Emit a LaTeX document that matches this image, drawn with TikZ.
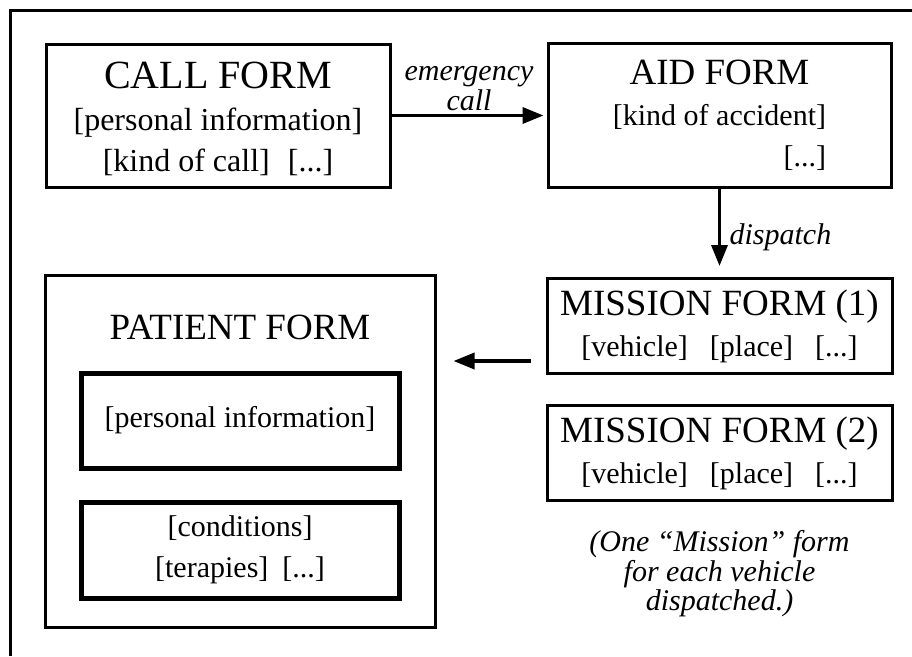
\documentclass[tikz,border=0pt]{standalone}
\usepackage{fontspec}
\setmainfont{Liberation Serif}
\usepackage{tikz}
\usetikzlibrary{arrows.meta, positioning}

\newcommand{\fld}[1]{[#1]}
\newcommand{\titlesize}{\fontsize{37}{41}\selectfont}
\newcommand{\bigtitlesize}{\fontsize{40}{41}\selectfont}

\begin{document}
\begin{tikzpicture}[
            x = 1pt, y = -1pt, % pixel grid, y pointing down
            > = {Triangle[length=21pt, width=16pt]}, % arrow head style
            line width = 3.5pt,
            node distance = 29pt, % gap between stacked forms
            align = center
        ]

        \tikzstyle{form}=[
            draw = black,
            line width = 3pt,
            fill = white,
            inner sep = 0pt,
            font = \fontsize{30}{41}\selectfont
        ]
        \tikzstyle{subform}=[form, line width = 5pt, minimum width = 318pt]
        \tikzstyle{remark}=[font = \itshape\fontsize{30}{29.5}\selectfont]

        \useasboundingbox (0,0) rectangle (912,656);
        \draw[line width = 3pt] (912,10) -- (10,10) -- (10,656);

        \node[form, minimum width = 344pt, minimum height = 143pt, font = \fontsize{32}{41.5}\selectfont] (callform) at (218,115.5) {\rule{0pt}{34pt}{\bigtitlesize CALL FORM}\\ \fld{personal information}\\ \fld{kind of call}\hspace{18pt}\fld{...}};
        \node[form, minimum width = 343pt, minimum height = 144pt, right = 155pt of callform] (aidform) {{\titlesize AID FORM}\\ \fld{kind of accident}\\ \hphantom{\fld{kind of accident}}\llap{\fld{...}}};
        \node[form, minimum width = 345pt, minimum height = 95pt, below = 88pt of aidform] (mission1) {{\titlesize MISSION FORM (1)}\\ \fld{vehicle}\hspace{22pt}\fld{place}\hspace{22pt}\fld{...}};
        \node[form, minimum width = 345pt, minimum height = 95pt, below = of mission1] (mission2) {{\titlesize MISSION FORM (2)}\\ \fld{vehicle}\hspace{22pt}\fld{place}\hspace{22pt}\fld{...}};

        \node[form, minimum width = 390pt, minimum height = 352pt] (patientform) at (240,451) {};
        \node[font = \titlesize, anchor = base] (patienttitle) at (240,339) {PATIENT FORM};
        \node[subform, minimum height = 95pt] (patientinfo) at (240,420.5) {\fld{personal information}};
        \node[subform, minimum height = 96pt, below = of patientinfo] (patientcare) {\fld{conditions}\\ \fld{terapies}\hspace{14pt}\fld{...}};

        \node[remark, inner sep = 0pt, below = 27pt of mission2] (onepervehicle) {(One ``Mission'' form\\for each vehicle\\dispatched.)};

        \coordinate (handoff) at ([yshift=14pt]mission1.south west);

        \path[->] (callform) edge[shorten > = 3pt] node[above, remark] {emergency\\call} (aidform);
        \path[->] (aidform) edge[shorten > = 11pt] node[right, remark, xshift = 5pt, yshift = -4pt] {dispatch} (mission1);
        \draw[->, shorten < = 15pt, shorten > = 17pt] (handoff) -- (handoff -| patientform.east);

    \end{tikzpicture}
\end{document}
